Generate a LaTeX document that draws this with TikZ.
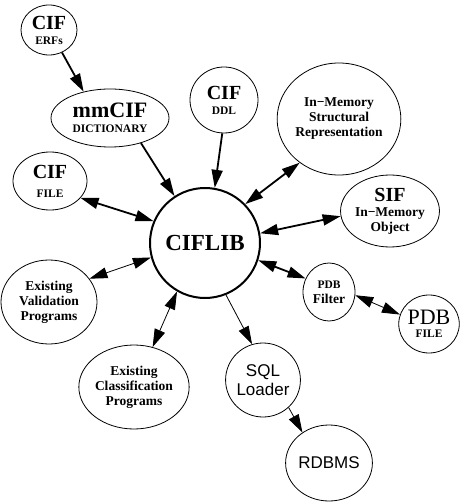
\documentclass[tikz,border=0pt]{standalone}
\usepackage{fontspec}
\setmainfont{Liberation Serif}
\setsansfont{Liberation Sans}
\usepackage{tikz}
\usetikzlibrary{arrows.meta,shapes.geometric}
\newcommand{\bigtag}[1]{{\fontsize{20}{15}\selectfont #1}}
\newcommand{\smalltag}[1]{{\fontsize{11.5}{15}\selectfont #1}}
\tikzset{
  blob/.style 2 args={ellipse,draw,line width=0.8pt,inner sep=0pt,
    minimum width=#1pt,minimum height=#2pt,align=center,
    font=\fontsize{13.5}{15}\selectfont\bfseries},
  core/.style={circle,draw,line width=2pt,minimum size=110pt,
    font=\fontsize{23}{23}\selectfont\bfseries},
  sansbox/.style={font=\fontsize{17}{19}\selectfont\sffamily},
  heavy/.style={line width=1.8pt},
  light/.style={line width=0.8pt},
  flow/.style={>={Triangle[length=18pt,width=11pt]}}
}
\begin{document}
\begin{tikzpicture}[x=1pt,y=-1pt]
  \useasboundingbox (0,0) rectangle (460,502);

  \node[core] (ciflib) at (205,243) {CIFLIB};
  \node[blob={56}{50}] (erfs) at (49,30) {\bigtag{CIF}\\\smalltag{ERFs}};
  \node[blob={118}{58}] (mmcif) at (110,118) {{\fontsize{22}{15}\selectfont mmCIF}\\\smalltag{DICTIONARY}};
  \node[blob={68}{66}] (ddl) at (224,100) {\bigtag{CIF}\\\smalltag{DDL}};
  \node[blob={74}{58}] (cfile) at (50,181) {\bigtag{CIF}\\[4pt]\smalltag{FILE}};
  \node[blob={120}{112}] (struct) at (339,119) {In−Memory\\Structural\\Representation};
  \node[blob={74}{72}] (sif) at (390,211) {\bigtag{SIF}\\In−Memory\\Object};
  \node[blob={96}{84}] (valid) at (49,302) {Existing\\Validation\\Programs};
  \node[blob={96}{84}] (classif) at (134,387) {Existing\\Classification\\Programs};
  \node[blob={52}{58}] (filter) at (329,292) {{\fontsize{11.5}{15}\selectfont PDB}\\Filter};
  \node[blob={60}{58}] (pdbfile) at (429,324) {{\fontsize{22}{15}\selectfont\mdseries PDB}\\[-2pt]\smalltag{FILE}};
  \node[blob={72}{74},sansbox] (sql) at (263,380) {SQL\\Loader};
  \node[blob={72}{76},sansbox] (rdbms) at (329,463) {RDBMS};

  \path[flow]
  (erfs.-60) edge[heavy,->] (mmcif.135)
  (mmcif.-39) edge[heavy,->] (ciflib.123)
  (ddl.-93) edge[heavy,->] (ciflib.80)
  (cfile.-29) edge[heavy,<->] (ciflib.157)
  (struct.-132) edge[heavy,<->] (ciflib.44)
  (sif.-174) edge[heavy,<->] (ciflib.10)
  (valid.30) edge[light,<->] (ciflib.-165)
  (classif.65) edge[light,<->] (ciflib.-120)
  (ciflib.-68) edge[light,->] (sql.107)
  (ciflib.-18) edge[heavy,<->] (filter.150)
  (filter.-7) edge[light,<->] (pdbfile.162)
  (sql.-47) edge[light,->] (rdbms.131)
  ;
\end{tikzpicture}
\end{document}
